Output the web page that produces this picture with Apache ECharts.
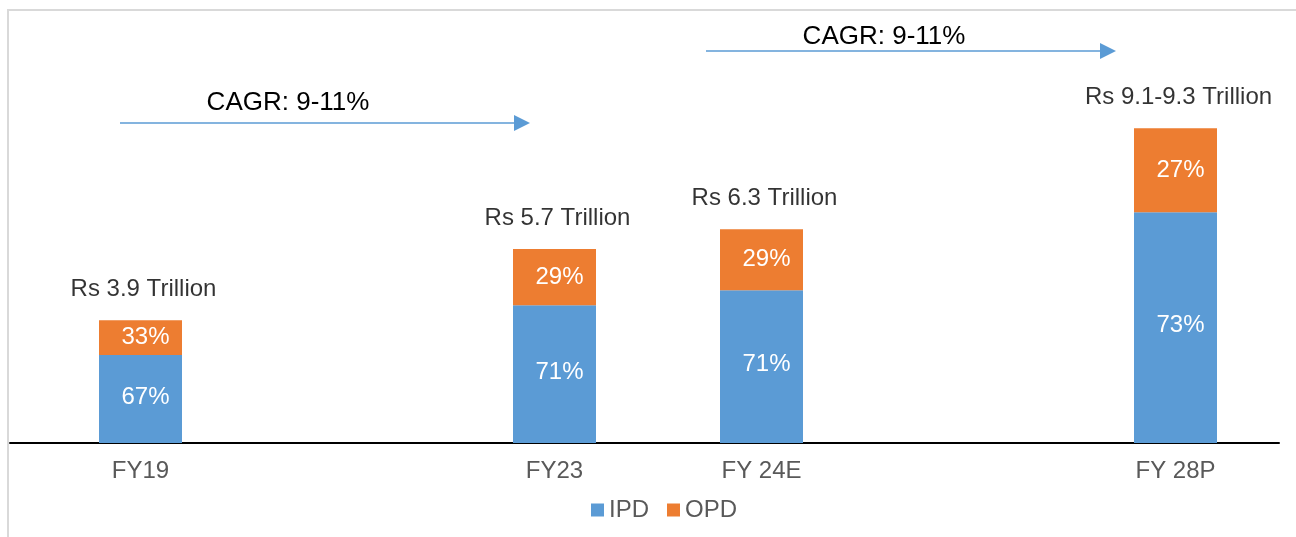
<!DOCTYPE html>
<html>
<head>
<meta charset="utf-8">
<script src="https://cdn.jsdelivr.net/npm/echarts@6/dist/echarts.min.js"></script>
<style>
  html, body { margin: 0; padding: 0; background: #fff; }
  #chart { width: 1296px; height: 537px; }
</style>
</head>
<body>
<div id="chart"></div>
<script>
// categories (empty slots leave the gaps between years)
var years = ['FY19', '', 'FY23', 'FY 24E', '', 'FY 28P'];
// bar segments, Rs trillion
var ipd = [2.57, null, 4.03, 4.47, null, 6.75];
var opd = [1.02, null, 1.64, 1.78, null, 2.45];
// label texts
var ipdPct = ['67%', '', '71%', '71%', '', '73%'];
var opdPct = ['33%', '', '29%', '29%', '', '27%'];
var totals = ['Rs 3.9 Trillion', '', 'Rs 5.7 Trillion', 'Rs 6.3 Trillion', '', 'Rs 9.1-9.3 Trillion'];
var cagrText = ['CAGR: 9-11%', 'CAGR: 9-11%'];

var font = '"Liberation Sans", Arial, sans-serif';
var blue = '#5b9bd5', orange = '#ed7d31';

var myChart = echarts.init(document.getElementById('chart'));

var option = {
    animation: false,
    textStyle: { fontFamily: font },
    grid: [
        { left: 37, right: 17, top: 101, bottom: 94 },
        { left: 10, right: 17, top: 101, bottom: 94 }   // only for the full-width baseline
    ],
    legend: {
        data: ['IPD', 'OPD'],
        left: 586,
        top: 493,
        itemWidth: 13,
        itemHeight: 13,
        itemGap: 18,
        icon: 'rect',
        textStyle: { fontSize: 24, color: '#595959', fontFamily: font }
    },
    xAxis: [
        {
            type: 'category',
            gridIndex: 0,
            data: years,
            axisTick: { show: false },
            axisLine: { show: false },
            axisLabel: { interval: 0, margin: 16, fontSize: 24, color: '#595959' }
        },
        {
            type: 'value',
            gridIndex: 1,
            min: 0,
            max: 1,
            splitLine: { show: false },
            axisTick: { show: false },
            axisLabel: { show: false },
            axisLine: { show: true, onZero: false, lineStyle: { color: '#000', width: 2 } }
        }
    ],
    yAxis: [
        { type: 'value', gridIndex: 0, min: 0, max: 10, show: false },
        { type: 'value', gridIndex: 1, min: 0, max: 1, show: false }
    ],
    series: [
        {
            name: 'IPD',
            type: 'bar',
            stack: 'total',
            barWidth: 83,
            itemStyle: { color: blue },
            label: {
                show: true,
                position: 'inside',
                offset: [5, -2],
                color: '#fff',
                fontSize: 24,
                formatter: function (p) { return ipdPct[p.dataIndex]; }
            },
            data: ipd
        },
        {
            name: 'OPD',
            type: 'bar',
            stack: 'total',
            barWidth: 83,
            itemStyle: { color: orange },
            label: {
                show: true,
                position: 'inside',
                offset: [5, 0],
                color: '#fff',
                fontSize: 24,
                formatter: function (p) { return opdPct[p.dataIndex]; }
            },
            data: opd
        },
        {
            name: 'Total',
            type: 'scatter',
            silent: true,
            symbolSize: 1,
            itemStyle: { color: 'rgba(0,0,0,0)' },
            label: {
                show: true,
                position: 'top',
                distance: 18,
                offset: [3, 0],
                color: '#000',
                fontSize: 24,
                formatter: function (p) { return totals[p.dataIndex]; }
            },
            data: ipd.map(function (v, i) { return v == null ? null : v + opd[i]; })
        }
    ],
    graphic: [
        {   // outer frame
            type: 'rect',
            shape: { x: 8, y: 10, width: 1400, height: 700 },
            style: { fill: 'none', stroke: '#d9d9d9', lineWidth: 2 }
        },
        {
            type: 'line',
            shape: { x1: 120, y1: 123, x2: 516, y2: 123 },
            style: { stroke: blue, lineWidth: 1.5 }
        },
        {
            type: 'polygon',
            shape: { points: [[514, 115], [530, 123], [514, 131]] },
            style: { fill: blue }
        },
        {
            type: 'line',
            shape: { x1: 706, y1: 51, x2: 1102, y2: 51 },
            style: { stroke: blue, lineWidth: 1.5 }
        },
        {
            type: 'polygon',
            shape: { points: [[1100, 43], [1116, 51], [1100, 59]] },
            style: { fill: blue }
        },
        {
            type: 'text',
            x: 288, y: 103,
            style: { text: cagrText[0], font: '26px ' + font, fill: '#000', textAlign: 'center', textVerticalAlign: 'middle' }
        },
        {
            type: 'text',
            x: 884, y: 37,
            style: { text: cagrText[1], font: '26px ' + font, fill: '#000', textAlign: 'center', textVerticalAlign: 'middle' }
        }
    ]
};

myChart.setOption(option);
window.addEventListener('resize', function () {
    myChart.resize();
});
</script>
</body>
</html>
